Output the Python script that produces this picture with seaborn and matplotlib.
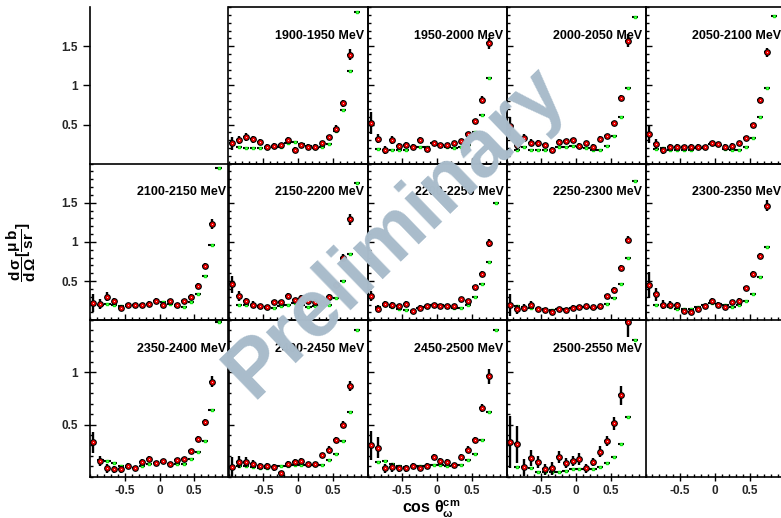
import numpy as np
import pandas as pd
import matplotlib
matplotlib.use("Agg")
import matplotlib.pyplot as plt
from matplotlib.ticker import MultipleLocator, FixedLocator
import seaborn as sns

sns.set_theme(style="white")
plt.rcParams['font.family'] = ['Liberation Sans', 'DejaVu Sans']
plt.rcParams['mathtext.fontset'] = 'custom'
plt.rcParams['mathtext.rm'] = 'Liberation Sans'
plt.rcParams['mathtext.bf'] = 'Liberation Sans:bold'
plt.rcParams['mathtext.it'] = 'Liberation Sans:italic'
plt.rcParams['mathtext.default'] = 'bf'

# ---------------- data ----------------
x_red = [-0.95, -0.85, -0.75, -0.65, -0.55, -0.45, -0.35, -0.25, -0.15,
         -0.05, 0.05, 0.15, 0.25, 0.35, 0.45, 0.55, 0.65, 0.75]
x_green = [-0.85, -0.75, -0.65, -0.55, -0.45, -0.35, -0.25, -0.15, -0.05,
           0.05, 0.15, 0.25, 0.35, 0.45, 0.55, 0.65, 0.75, 0.85]
nan = np.nan

labels = ["1900-1950 MeV", "1950-2000 MeV", "2000-2050 MeV", "2050-2100 MeV",
          "2100-2150 MeV", "2150-2200 MeV", "2200-2250 MeV", "2250-2300 MeV",
          "2300-2350 MeV", "2350-2400 MeV", "2400-2450 MeV", "2450-2500 MeV",
          "2500-2550 MeV"]

red_1900 = [0.26, 0.30, 0.34, 0.31, 0.28, 0.22, 0.23, 0.24, 0.30, 0.18, 0.24, 0.22, 0.22, 0.26, 0.34, 0.45, 0.77, 1.39]
err_1900 = [0.08, 0.05, 0.05, 0.04, 0.04, 0.03, 0.03, 0.03, 0.04, 0.03, 0.03, 0.03, 0.03, 0.03, 0.03, 0.04, 0.05, 0.07]
grn_1900 = [0.21, 0.20, 0.20, 0.20, 0.20, 0.21, 0.22, 0.27, 0.28, 0.25, 0.23, 0.20, 0.21, 0.25, 0.42, 0.69, 1.18, 1.94]

red_1950 = [0.52, 0.32, 0.18, 0.30, 0.23, 0.24, 0.22, 0.30, 0.19, 0.26, 0.24, 0.24, 0.26, 0.29, 0.38, 0.54, 0.82, 1.54]
err_1950 = [0.14, 0.06, 0.05, 0.05, 0.04, 0.04, 0.03, 0.04, 0.03, 0.03, 0.03, 0.03, 0.03, 0.03, 0.03, 0.03, 0.04, 0.07]
grn_1950 = [0.19, 0.18, 0.18, 0.18, 0.17, 0.21, 0.22, 0.22, 0.26, 0.24, 0.22, 0.20, 0.21, 0.24, 0.41, 0.62, 1.09, nan]

red_2000 = [0.48, 0.24, 0.33, 0.27, 0.26, 0.24, 0.18, 0.28, 0.29, 0.30, 0.23, 0.26, 0.22, 0.32, 0.35, 0.52, 0.84, 1.57]
err_2000 = [0.12, 0.06, 0.05, 0.04, 0.04, 0.03, 0.03, 0.03, 0.03, 0.03, 0.03, 0.03, 0.03, 0.03, 0.03, 0.03, 0.04, 0.08]
grn_2000 = [0.17, 0.21, 0.18, 0.18, 0.17, 0.18, 0.21, 0.22, 0.23, 0.22, 0.20, 0.18, 0.18, 0.23, 0.35, 0.60, 0.97, 1.87]

red_2050 = [0.38, 0.25, 0.17, 0.21, 0.22, 0.21, 0.22, 0.22, 0.21, 0.26, 0.25, 0.22, 0.23, 0.26, 0.33, 0.49, 0.81, 1.42]
err_2050 = [0.12, 0.06, 0.05, 0.04, 0.03, 0.03, 0.03, 0.03, 0.03, 0.03, 0.03, 0.03, 0.03, 0.03, 0.03, 0.03, 0.04, 0.06]
grn_2050 = [0.19, 0.20, 0.18, 0.18, 0.17, 0.18, 0.20, 0.20, 0.25, 0.24, 0.19, 0.17, 0.18, 0.22, 0.33, 0.60, 0.97, 1.89]

red_2100 = [0.22, 0.21, 0.30, 0.24, 0.16, 0.19, 0.19, 0.19, 0.21, 0.25, 0.20, 0.24, 0.19, 0.24, 0.30, 0.44, 0.69, 1.23]
err_2100 = [0.11, 0.06, 0.06, 0.04, 0.03, 0.03, 0.03, 0.03, 0.03, 0.03, 0.03, 0.03, 0.03, 0.03, 0.03, 0.03, 0.04, 0.06]
grn_2100 = [0.20, 0.21, 0.19, 0.18, 0.18, 0.19, 0.19, 0.21, 0.25, 0.23, 0.21, 0.18, 0.17, 0.23, 0.34, 0.56, 0.96, 1.94]

red_2150 = [0.46, 0.31, 0.24, 0.20, 0.18, 0.17, 0.23, 0.23, 0.31, 0.26, 0.29, 0.25, 0.23, 0.22, 0.30, 0.45, 0.79, 1.29]
err_2150 = [0.11, 0.06, 0.05, 0.04, 0.03, 0.03, 0.03, 0.03, 0.04, 0.03, 0.03, 0.03, 0.03, 0.03, 0.03, 0.04, 0.05, 0.07]
grn_2150 = [0.19, 0.20, 0.19, 0.17, 0.16, 0.16, 0.18, 0.20, 0.22, 0.20, 0.17, 0.18, 0.19, 0.20, 0.29, 0.50, 0.84, 1.75]

red_2200 = [0.31, 0.15, 0.21, 0.19, 0.18, 0.21, 0.12, 0.16, 0.18, 0.19, 0.18, 0.18, 0.18, 0.27, 0.24, 0.42, 0.59, 0.99]
err_2200 = [0.07, 0.05, 0.04, 0.04, 0.03, 0.03, 0.03, 0.03, 0.03, 0.03, 0.03, 0.03, 0.03, 0.03, 0.03, 0.03, 0.04, 0.05]
grn_2200 = [0.17, 0.19, 0.17, 0.15, 0.13, 0.11, 0.16, 0.17, 0.19, 0.19, 0.18, 0.16, 0.16, 0.20, 0.30, 0.46, 0.75, 1.49]

red_2250 = [0.20, 0.14, 0.16, 0.20, 0.14, 0.13, 0.11, 0.14, 0.13, 0.16, 0.17, 0.18, 0.17, 0.18, 0.31, 0.39, 0.67, 1.03]
err_2250 = [0.14, 0.06, 0.05, 0.04, 0.03, 0.03, 0.03, 0.03, 0.03, 0.03, 0.03, 0.03, 0.03, 0.03, 0.03, 0.03, 0.04, 0.05]
grn_2250 = [0.18, 0.17, 0.16, 0.15, 0.14, 0.13, 0.14, 0.15, 0.16, 0.17, 0.17, 0.16, 0.17, 0.21, 0.29, 0.46, 0.79, 1.78]

red_2300 = [0.45, 0.33, 0.20, 0.20, 0.19, 0.12, 0.11, 0.14, 0.18, 0.25, 0.20, 0.17, 0.23, 0.25, 0.41, 0.59, 0.82, 1.46]
err_2300 = [0.16, 0.08, 0.06, 0.04, 0.04, 0.03, 0.03, 0.03, 0.03, 0.04, 0.03, 0.03, 0.03, 0.03, 0.03, 0.04, 0.04, 0.07]
grn_2300 = [0.20, 0.19, 0.17, 0.15, 0.14, 0.14, 0.17, 0.19, 0.22, 0.21, 0.19, 0.17, 0.20, 0.25, 0.34, 0.55, 0.94, nan]

red_2350 = [0.33, 0.15, 0.08, 0.07, 0.07, 0.10, 0.08, 0.14, 0.17, 0.13, 0.15, 0.12, 0.16, 0.17, 0.25, 0.36, 0.52, 0.91]
err_2350 = [0.10, 0.05, 0.04, 0.03, 0.03, 0.03, 0.02, 0.03, 0.03, 0.02, 0.02, 0.02, 0.02, 0.02, 0.02, 0.03, 0.03, 0.05]
grn_2350 = [0.16, 0.15, 0.13, 0.10, 0.09, 0.08, 0.10, 0.12, 0.13, 0.14, 0.12, 0.12, 0.12, 0.17, 0.24, 0.34, 0.64, 1.48]

red_2400 = [0.09, 0.14, 0.14, 0.12, 0.10, 0.10, 0.09, 0.04, 0.12, 0.14, 0.15, 0.12, 0.12, 0.21, 0.26, 0.35, 0.50, 0.87]
err_2400 = [0.10, 0.06, 0.05, 0.04, 0.03, 0.03, 0.03, 0.02, 0.03, 0.03, 0.03, 0.02, 0.02, 0.02, 0.03, 0.03, 0.03, 0.05]
grn_2400 = [0.10, 0.10, 0.09, 0.08, 0.08, 0.09, 0.10, 0.10, 0.11, 0.11, 0.11, 0.11, 0.11, 0.16, 0.22, 0.34, 0.62, 1.40]

red_2450 = [0.30, 0.28, 0.08, 0.09, 0.08, 0.08, 0.10, 0.08, 0.10, 0.19, 0.15, 0.14, 0.11, 0.19, 0.26, 0.35, 0.66, 0.96]
err_2450 = [0.14, 0.10, 0.04, 0.04, 0.03, 0.03, 0.03, 0.02, 0.03, 0.03, 0.03, 0.03, 0.02, 0.03, 0.03, 0.03, 0.04, 0.07]
grn_2450 = [0.14, 0.15, 0.12, 0.10, 0.09, 0.10, 0.10, 0.10, 0.11, 0.11, 0.10, 0.11, 0.11, 0.16, 0.22, 0.35, 0.62, 1.40]

red_2500 = [0.33, 0.31, 0.09, 0.18, 0.14, 0.07, 0.08, 0.19, 0.13, 0.15, 0.17, 0.08, 0.14, 0.24, 0.34, 0.51, 0.78, 1.48]
err_2500 = [0.25, 0.18, 0.08, 0.08, 0.06, 0.05, 0.06, 0.06, 0.05, 0.05, 0.06, 0.04, 0.04, 0.05, 0.05, 0.06, 0.09, 0.14]
grn_2500 = [0.09, 0.09, 0.08, 0.05, 0.05, 0.05, 0.05, 0.06, 0.07, 0.07, 0.07, 0.07, 0.09, 0.13, 0.19, 0.31, 0.57, 1.31]

reds = [red_1900, red_1950, red_2000, red_2050, red_2100, red_2150, red_2200,
        red_2250, red_2300, red_2350, red_2400, red_2450, red_2500]
errs = [err_1900, err_1950, err_2000, err_2050, err_2100, err_2150, err_2200,
        err_2250, err_2300, err_2350, err_2400, err_2450, err_2500]
grns = [grn_1900, grn_1950, grn_2000, grn_2050, grn_2100, grn_2150, grn_2200,
        grn_2250, grn_2300, grn_2350, grn_2400, grn_2450, grn_2500]

x_ticks = [-0.5, 0.0, 0.5]
x_ticklabels = ["-0.5", "0", "0.5"]
y_ticks_top = [0.5, 1.0, 1.5]
y_ticklabels_top = ["0.5", "1", "1.5"]
y_ticks_bot = [0.5, 1.0]
y_ticklabels_bot = ["0.5", "1"]

# ---------------- layout ----------------
W, H = 781.0, 518.0
fig = plt.figure(figsize=(W / 100, H / 100), dpi=100)
col_left = [90.0, 228.5, 367.5, 506.5, 645.5]
row_top = [7.0, 163.5, 320.0]
pw, ph = 139.0, 156.8

def make_ax(r, c):
    l = col_left[c] / W
    b = 1 - (row_top[r] + ph) / H
    ax = fig.add_axes([l, b, pw / W, ph / H])
    ax.set_facecolor("none")
    ax.set_xlim(-1, 1)
    ax.set_ylim(0, 2.0 if r < 2 else 1.5)
    for s in ax.spines.values():
        s.set_linewidth(1.2)
        s.set_color("black")
    return ax

def style_ticks(ax, r, c):
    ax.xaxis.set_major_locator(FixedLocator(x_ticks))
    ax.xaxis.set_minor_locator(MultipleLocator(0.1))
    ax.yaxis.set_major_locator(FixedLocator(y_ticks_top if r < 2 else y_ticks_bot))
    ax.yaxis.set_minor_locator(MultipleLocator(0.1))
    ax.tick_params(axis="both", which="both", direction="in", top=False, right=False,
                   bottom=True, left=True, width=1.0, color="black")
    ax.tick_params(axis="both", which="major", length=4.5)
    ax.tick_params(axis="both", which="minor", length=2.2)
    if c == 0:
        ax.set_yticklabels(y_ticklabels_top if r < 2 else y_ticklabels_bot)
        ax.tick_params(axis="y", which="major", direction="inout", length=8, pad=4.5,
                       labelsize=8.5, labelleft=True)
    else:
        ax.tick_params(axis="y", labelleft=False)
    if r == 2:
        ax.set_xticklabels(x_ticklabels)
        ax.tick_params(axis="x", which="major", direction="inout", length=6, pad=3.0,
                       labelsize=8.5, labelbottom=True)
    else:
        ax.tick_params(axis="x", labelbottom=False)
    for lab in ax.get_xticklabels() + ax.get_yticklabels():
        lab.set_fontweight("bold")
    ax.set_xlabel("")
    ax.set_ylabel("")

# empty top-left: only a y axis
ax0 = make_ax(0, 0)
ax0.spines["top"].set_visible(False)
ax0.spines["right"].set_visible(False)
ax0.spines["bottom"].set_visible(False)
ax0.set_xticks([])
ax0.yaxis.set_major_locator(FixedLocator(y_ticks_top))
ax0.set_yticklabels(y_ticklabels_top)
ax0.tick_params(axis="y", which="major", direction="out", length=5, width=1.0,
                pad=3.5, labelsize=8.5, left=True, color="black")
for lab in ax0.get_yticklabels():
    lab.set_fontweight("bold")

# empty bottom-right: only an x axis
ax14 = make_ax(2, 4)
ax14.spines["top"].set_visible(False)
ax14.spines["right"].set_visible(False)
ax14.spines["left"].set_color("#d8d8d8")
ax14.spines["left"].set_linewidth(0.6)
style_ticks(ax14, 2, 4)
ax14.set_yticks([])
ax14.yaxis.set_minor_locator(FixedLocator([]))

positions = [(0, 1), (0, 2), (0, 3), (0, 4),
             (1, 0), (1, 1), (1, 2), (1, 3), (1, 4),
             (2, 0), (2, 1), (2, 2), (2, 3)]

for i, (r, c) in enumerate(positions):
    ax = make_ax(r, c)
    dr = pd.DataFrame({"x": x_red, "y": reds[i], "e": errs[i]})
    dg = pd.DataFrame({"x": x_green, "y": grns[i]}).dropna()
    # green reference points
    ax.errorbar(dg["x"], dg["y"], xerr=0.045, fmt="none", ecolor="black",
                elinewidth=1.5, capsize=0, zorder=2)
    sns.scatterplot(data=dg, x="x", y="y", ax=ax, marker="s", s=4.5,
                    color="white", edgecolor="#14e614", linewidth=1.0, zorder=3,
                    legend=False)
    # red data points
    ax.errorbar(dr["x"], dr["y"], yerr=dr["e"], xerr=0.04, fmt="none",
                ecolor="black", elinewidth=1.7, capsize=0, zorder=4)
    sns.scatterplot(data=dr, x="x", y="y", ax=ax, marker="o", s=24,
                    color="black", linewidth=0, zorder=5, legend=False)
    sns.scatterplot(data=dr, x="x", y="y", ax=ax, marker="o", s=4.0,
                    color="white", edgecolor="#ee0000", linewidth=1.25, zorder=6,
                    legend=False)
    style_ticks(ax, r, c)
    ax.text(0.978, 0.796, labels[i], transform=ax.transAxes, ha="right",
            va="baseline", fontsize=9, fontweight="bold", color="black", zorder=10)

# axis titles
fig.text(21 / W, 1 - 252 / H, r"$\dfrac{d\,\sigma}{d\,\Omega}[\dfrac{\mu\,b}{sr}]$",
         rotation=90, ha="center", va="center", fontsize=11, color="black")
fig.text(402 / W, 1 - 514 / H, r"cos $\theta^{cm}_{\omega}$", ha="left",
         va="baseline", fontsize=11.5, fontweight="bold", color="black")

# watermark
fig.text(396 / W, 1 - 232 / H, "Preliminary", rotation=44, rotation_mode="anchor",
         ha="center", va="center", fontsize=58, fontweight="bold",
         color="#a9bccb", zorder=100)

fig.savefig("out.png", dpi=100)
